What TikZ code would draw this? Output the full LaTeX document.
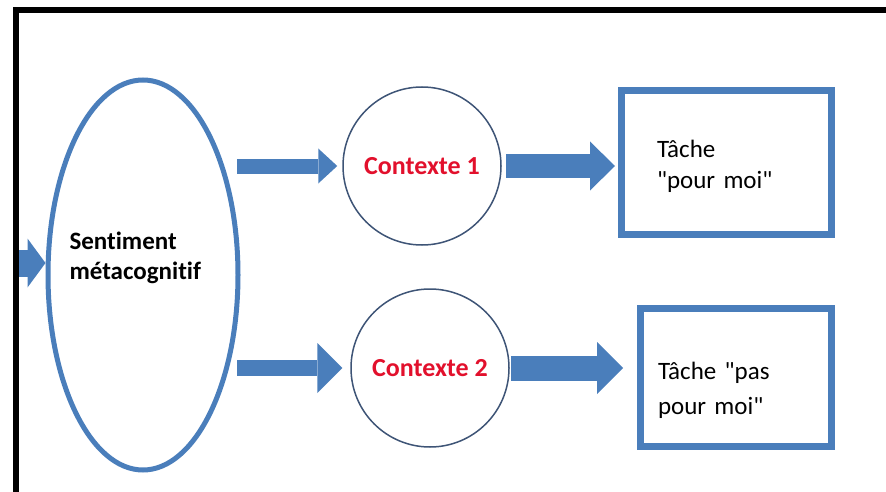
\documentclass[tikz,border=0pt]{standalone}
\usepackage{fontspec}
\setmainfont{Carlito}[Ligatures={TeXOff,NoCommon}]
\usetikzlibrary{arrows.meta,shapes.geometric,positioning}
\definecolor{flowblue}{RGB}{74,126,187}
\definecolor{ringgray}{RGB}{62,84,118}
\definecolor{ctxred}{RGB}{226,16,44}

\begin{document}
\begin{tikzpicture}[
	x=1pt, y=-1pt,
	flow/.style args={#1/#2/#3}{draw=flowblue, line width=#1, -{Triangle[length=#2, width=#3, line width=0pt]}},
	oval/.style={ellipse, draw=flowblue, line width=5pt, minimum width=190pt, minimum height=390pt},
	ctx/.style={circle, draw=ringgray, line width=1.5pt, minimum size=158pt, text=ctxred, font=\bfseries\fontsize{26}{31}\selectfont},
	task/.style={rectangle, draw=flowblue, line width=7pt, align=left, font=\fontsize{25}{#1}\selectfont}
	]
	
	\useasboundingbox (0,0) rectangle (886,492);
	% frame
	\draw[line width=6pt] (16,492) -- (16,10) -- (886,10);
	
	\node[oval] (sent) at (143,275) {};
	\node[align=left, anchor=west, font=\bfseries\fontsize{25}{30}\selectfont] (sentlbl) at (66,258) {Sentiment\\métacognitif};
	\node[ctx] (ctxa) at (422,166) {Contexte 1};
	\node[ctx] (ctxb) at (430,368) {Contexte 2};
	\node[task=31pt, minimum width=210pt, minimum height=144pt, text width=139pt, inner xsep=35.5pt] (taska) at (726.5,162.5) {\rule{0pt}{26pt}Tâche\\"pour moi"};
	\node[task=35pt, minimum width=191pt, minimum height=138pt, text width=156pt, inner xsep=17.5pt] (taskb) at (736,377.5) {\rule{0pt}{43pt}Tâche "pas\\pour moi"};
	
	\coordinate (entry) at (19,263);
	\draw[flow=27pt/18pt/49pt] (entry) -- (entry -| sent.west);
	\draw[flow=15pt/19pt/35pt, shorten <=-3.5pt, shorten >=5pt] (sent.east |- ctxa.west) -- (ctxa.west);
	\draw[flow=23pt/25pt/49pt, shorten <=4pt, shorten >=3pt] (ctxa.east) -- (ctxa.east -| taska.west);
	\draw[flow=16pt/25pt/50pt, shorten <=-3.5pt, shorten >=8pt] (sent.east |- ctxb.west) -- (ctxb.west);
	\draw[flow=25pt/26pt/52pt, shorten <=1pt, shorten >=14pt] (ctxb.east) -- (ctxb.east -| taskb.west);
\end{tikzpicture}
\end{document}
